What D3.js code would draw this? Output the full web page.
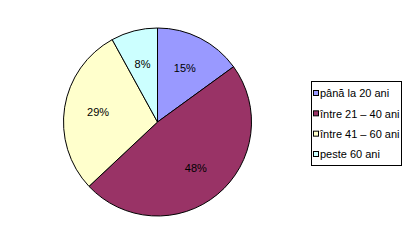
<!DOCTYPE html>
<html>
<head>
<meta charset="utf-8">
<script src="https://cdn.jsdelivr.net/npm/d3@7"></script>
<style>
  body { margin: 0; background: #fff; }
  text { font-family: "Liberation Sans", Arial, sans-serif; font-size: 11px; fill: #000; }
</style>
</head>
<body>
<div id="chart"></div>
<script>
const categories = ['până la 20 ani', 'între 21 – 40 ani', 'între 41 – 60 ani', 'peste 60 ani'];
const values = [15, 48, 29, 8];
const colours = ['#9999ff', '#993366', '#ffffcc', '#ccffff'];

const w = 416;
const h = 245;

const svg = d3.select('#chart')
  .append('svg')
  .attr('width', w)
  .attr('height', h);

const cx = 157.5;
const cy = 122;
const r = 94;

const pie = d3.pie().sort(null).value((d) => d);
const arcs = pie(values);

const arc = d3.arc().innerRadius(0).outerRadius(r);
const labelArc = d3.arc().innerRadius(r * 0.64).outerRadius(r * 0.64);

const pieGroup = svg.append('g')
  .attr('transform', `translate(${cx},${cy})`);

pieGroup.selectAll('path')
  .data(arcs)
  .enter()
  .append('path')
  .attr('d', arc)
  .attr('fill', (d, i) => colours[i])
  .attr('stroke', '#000')
  .attr('stroke-width', 1);

pieGroup.selectAll('text')
  .data(arcs)
  .enter()
  .append('text')
  .attr('transform', (d) => `translate(${labelArc.centroid(d)})`)
  .attr('text-anchor', 'middle')
  .attr('dy', '0.35em')
  .text((d) => d.data + '%');

// legend
const legend = svg.append('g');

legend.append('rect')
  .attr('x', 311.5)
  .attr('y', 81.5)
  .attr('width', 90)
  .attr('height', 84)
  .attr('fill', '#fff')
  .attr('stroke', '#000');

const rowY = d3.scaleLinear().domain([0, 3]).range([93.5, 154.5]);

const rows = legend.selectAll('g.row')
  .data(categories)
  .enter()
  .append('g')
  .attr('class', 'row')
  .attr('transform', (d, i) => `translate(0,${rowY(i)})`);

rows.append('rect')
  .attr('x', 313.5)
  .attr('y', -3)
  .attr('width', 5)
  .attr('height', 5)
  .attr('fill', (d, i) => colours[i])
  .attr('stroke', '#000');

rows.append('text')
  .attr('x', 320)
  .attr('dy', '0.35em')
  .text((d) => d);
</script>
</body>
</html>
